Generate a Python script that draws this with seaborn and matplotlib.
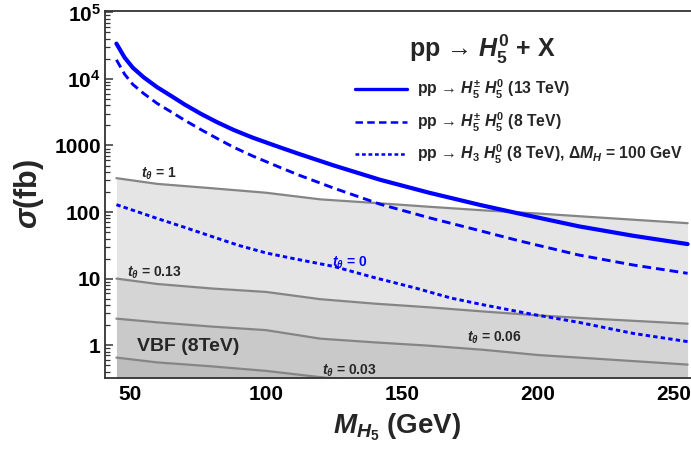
import numpy as np
import pandas as pd
import matplotlib
matplotlib.use("Agg")
import matplotlib.pyplot as plt
from matplotlib.ticker import FixedLocator, LogLocator, MultipleLocator, NullFormatter
from matplotlib.lines import Line2D
import seaborn as sns

# ---------------- data ----------------
mass_blue = [45, 48, 51, 55, 60, 65, 70, 76, 82, 88, 95, 105, 112, 125, 142, 160, 179, 193, 215, 235, 255]
xs_13tev = [34000, 21000, 14800, 10600, 7500, 5600, 4150, 3000, 2240, 1720, 1317, 942, 750, 500,
            305, 195, 127, 95, 61, 44, 33]
xs_8tev = [19400, 11800, 8300, 6050, 4280, 3220, 2410, 1740, 1277, 946, 698, 471, 360, 228,
           131, 82, 52, 37, 22.6, 16, 12]

mass_h3 = [45, 50, 55, 60, 70, 80, 90, 100, 110, 125, 140, 155, 168, 179, 198, 215, 235, 255]
xs_h3h5 = [129, 110, 94, 80, 59, 43, 31.5, 24.3, 20, 15.2, 10.3, 7.2, 5.1, 4.1, 2.9, 2.2, 1.5, 1.13]

mass_vbf = [45, 60, 80, 100, 120, 140, 160, 180, 200, 220, 255]
vbf_t1 = [323, 265, 228, 195, 155, 137, 120, 106, 95, 84, 68]
vbf_t013 = [10.0, 8.3, 7.1, 6.3, 4.9, 4.2, 3.7, 3.2, 2.8, 2.5, 2.1]
vbf_t006 = [2.5, 2.2, 1.9, 1.68, 1.25, 1.1, 0.98, 0.85, 0.71, 0.63, 0.51]
vbf_t003 = [0.65, 0.55, 0.48, 0.41, 0.33, 0.28, 0.25, 0.22, 0.20, 0.18, 0.15]

y_ticks = [1, 10, 100, 1000, 1e4, 1e5]
y_ticklabels = ["1", "10", "100", "1000", r"$10^4$", r"$10^5$"]
x_ticks = [50, 100, 150, 200, 250]
x_ticklabels = ["50", "100", "150", "200", "250"]

legend_labels = [
    r"pp → $H_5^{\pm}\ H_5^0$ (13 TeV)",
    r"pp → $H_5^{\pm}\ H_5^0$ (8 TeV)",
    r"pp → $H_3\ H_5^0$ (8 TeV), $\Delta M_H$ = 100 GeV",
]

# ---------------- style ----------------
sns.set_style("ticks")
plt.rcParams["font.family"] = ["Liberation Sans", "DejaVu Sans"]
plt.rcParams["font.weight"] = "bold"
plt.rcParams["mathtext.fontset"] = "custom"
plt.rcParams["mathtext.rm"] = "Liberation Sans:bold"
plt.rcParams["mathtext.it"] = "Liberation Sans:bold:italic"
plt.rcParams["mathtext.bf"] = "Liberation Sans:bold"
plt.rcParams["mathtext.sf"] = "Liberation Sans:bold"
plt.rcParams["mathtext.fallback"] = "stixsans"

fig = plt.figure(figsize=(6.91, 4.57), dpi=100)
ax = fig.add_axes([105 / 691, (457 - 377.7) / 457, 586 / 691, (377.7 - 11) / 457])

blue = "#0000ff"
gline = "#858585"

mv = np.array(mass_vbf)
ax.fill_between(mv, vbf_t013, vbf_t1, color="#e5e5e5", lw=0, zorder=1)
ax.fill_between(mv, vbf_t006, vbf_t013, color="#d5d5d5", lw=0, zorder=1)
ax.fill_between(mv, vbf_t003, vbf_t006, color="#c9c9c9", lw=0, zorder=1)
ax.fill_between(mv, 0.05, vbf_t003, color="#bdbdbd", lw=0, zorder=1)

for vals in (vbf_t1, vbf_t013, vbf_t006, vbf_t003):
    sns.lineplot(x=mass_vbf, y=vals, ax=ax, color=gline, linewidth=1.6, zorder=2)

sns.lineplot(x=mass_blue, y=xs_13tev, ax=ax, color=blue, linewidth=3.0, zorder=3)
sns.lineplot(x=mass_blue, y=xs_8tev, ax=ax, color=blue, linewidth=2.1, zorder=3)
ax.lines[-1].set_dashes((3.0, 1.7))
sns.lineplot(x=mass_h3, y=xs_h3h5, ax=ax, color=blue, linewidth=2.1, zorder=3)
ax.lines[-1].set_dashes((1.5, 1.1))

ax.set_yscale("log")
ax.set_xlim(40.8, 256.25)
ax.set_ylim(0.324, 1.05e5)

ax.yaxis.set_major_locator(FixedLocator(y_ticks))
ax.set_yticklabels(y_ticklabels)
ax.yaxis.set_minor_locator(LogLocator(base=10, subs=np.arange(2, 10)))
ax.yaxis.set_minor_formatter(NullFormatter())
ax.xaxis.set_major_locator(FixedLocator(x_ticks))
ax.set_xticklabels(x_ticklabels)
ax.xaxis.set_minor_locator(MultipleLocator(10))

ax.tick_params(axis="both", which="both", direction="in", colors="#333333",
               labelcolor="black", top=False, right=False)
ax.tick_params(axis="both", which="major", length=6, width=1.1, labelsize=15, pad=5)
ax.tick_params(axis="both", which="minor", length=3.5, width=0.9)
ax.tick_params(axis="y", which="major", pad=3)
for lab in ax.get_xticklabels() + ax.get_yticklabels():
    lab.set_fontweight("bold")
for s in ax.spines.values():
    s.set_color("#333333")
    s.set_linewidth(1.3)
ax.spines["right"].set_visible(False)

ax.set_xlabel(r"$M_{H_5}$ (GeV)", fontsize=20, fontweight="bold", va="center")
ax.xaxis.set_label_coords((397 - 105) / 586, -0.135)
ax.set_ylabel(r"$\sigma$(fb)", fontsize=22, fontweight="bold", va="center")
ax.yaxis.set_label_coords(-76 / 586, 0.5)

# legend
handles = [
    Line2D([], [], color=blue, lw=2.4),
    Line2D([], [], color=blue, lw=1.8, dashes=(3.0, 1.7)),
    Line2D([], [], color=blue, lw=1.8, dashes=(1.5, 1.1)),
]
leg = ax.legend(handles, legend_labels, loc="upper left",
                bbox_to_anchor=((355 - 105) / 586, 1 - (78 - 11) / 366.7),
                frameon=False, fontsize=11.3, handlelength=3.3, handletextpad=0.65,
                labelspacing=0.6, borderpad=0, borderaxespad=0)
for t in leg.get_texts():
    t.set_fontweight("bold")

# title inside plot
ax.text(179.4, 2.8e4, r"pp → $H_5^0$ + X", fontsize=18, fontweight="bold",
        ha="center", va="center", zorder=5)

# annotations
ax.text(60.5, 380, r"$t_\theta$ = 1", fontsize=10, fontweight="bold",
        ha="center", va="center", zorder=5)
ax.text(58.8, 12.4, r"$t_\theta$ = 0.13", fontsize=10, fontweight="bold",
        ha="center", va="center", zorder=5)
ax.text(130.8, 0.405, r"$t_\theta$ = 0.03", fontsize=10, fontweight="bold",
        ha="center", va="center", zorder=5)
ax.text(183.8, 1.3, r"$t_\theta$ = 0.06", fontsize=10, fontweight="bold",
        ha="center", va="center", zorder=5)
ax.text(130.8, 17.5, r"$t_\theta$ = 0", fontsize=10, fontweight="bold",
        color=blue, ha="center", va="center", zorder=5)
ax.text(71.3, 0.97, "VBF (8TeV)", fontsize=14, fontweight="bold",
        ha="center", va="center", zorder=5)

fig.savefig("out.png", dpi=100)
